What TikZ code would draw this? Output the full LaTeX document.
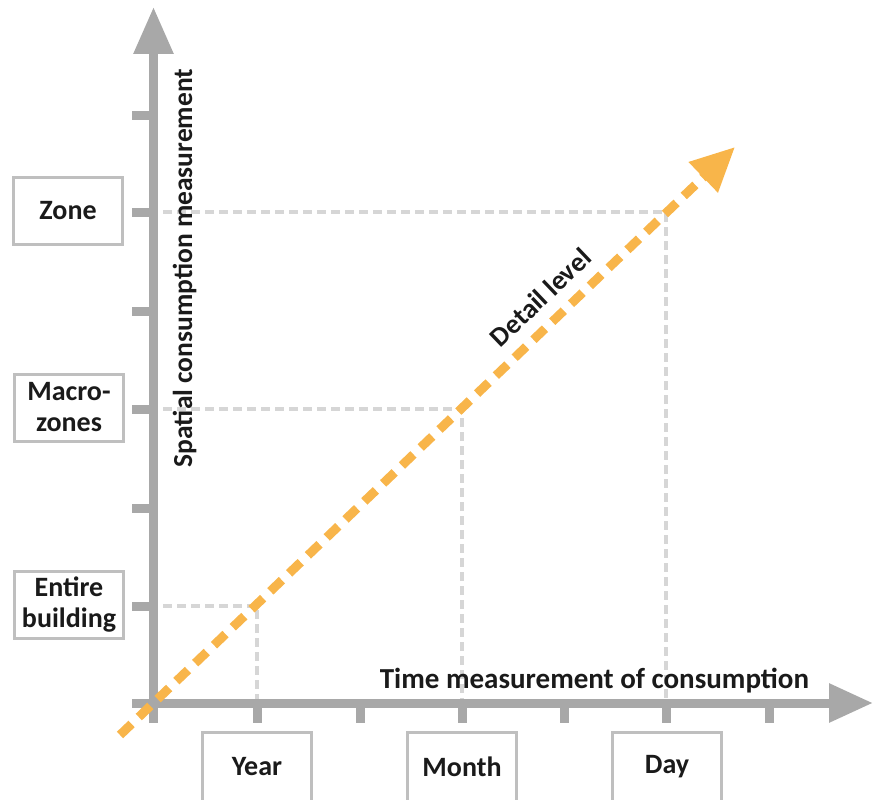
\documentclass[tikz,border=0pt]{standalone}
\usepackage{fontspec}
\setmainfont{Carlito}
\usetikzlibrary{arrows.meta}
\definecolor{axisgrey}{HTML}{A8A8A8}
\definecolor{boxgrey}{HTML}{BFBFBF}
\definecolor{dashgrey}{HTML}{D6D6D6}
\definecolor{detailorange}{HTML}{F8B54A}
\definecolor{textblack}{HTML}{1A1A1A}
\begin{document}
\begin{tikzpicture}[x=1pt,y=-1pt,
  axisline/.style={draw=axisgrey,line width=9pt},
  tickline/.style={draw=axisgrey,line width=9pt},
  guide/.style={draw=dashgrey,line width=4.5pt,dash pattern=on 9pt off 5pt},
  labelbox/.style={draw=boxgrey,line width=3pt,fill=white,minimum width=109pt,minimum height=67pt,
    inner sep=0pt,align=center,text=textblack,font=\bfseries\fontsize{28}{31}\selectfont},
  axislabel/.style={text=textblack,font=\bfseries\fontsize{27.5}{31}\selectfont,inner sep=0pt},
  detail/.style={draw=detailorange,line width=9pt,dash pattern=on 16pt off 10pt,
    -{Triangle[length=44pt,width=40pt]}}
]
\useasboundingbox (0,0) rectangle (873,800);

% coordinates
\coordinate (O) at (153.5,703);
\coordinate (ybot) at (153.5,723);
\coordinate (ytop) at (153.5,7);
\coordinate (xleft) at (132,703);
\coordinate (xright) at (873,703);

% guide lines
\coordinate (g1a) at (163,606); \coordinate (g1b) at (257,606); \coordinate (g1c) at (257,700);
\coordinate (g2a) at (163,409); \coordinate (g2b) at (462,409); \coordinate (g2c) at (462,700);
\coordinate (g3a) at (163,212); \coordinate (g3b) at (666,212); \coordinate (g3c) at (666,700);
\draw[guide] (g1a) -- (g1b) -- (g1c);
\draw[guide] (g2a) -- (g2b) -- (g2c);
\draw[guide] (g3a) -- (g3b) -- (g3c);

% axes
\draw[axisline,-{Triangle[length=47pt,width=38pt]}] (ybot) -- (ytop);
\draw[axisline,-{Triangle[length=44pt,width=37pt]}] (xleft) -- (xright);

% ticks on vertical axis
\foreach \yy in {115,212,311,409,508,606}
  \draw[tickline] (132,\yy) -- (150,\yy);
% ticks on horizontal axis
\foreach \xx in {257,360,462,564,666,769}
  \draw[tickline] (\xx,706) -- (\xx,723);

% detail arrow
\coordinate (dstart) at (120,735);
\coordinate (dend) at (735,147);
\draw[detail] (dstart) -- (dend);

% boxes
\node[labelbox] (zone) at (68,211) {Zone};
\node[labelbox] (macro) at (69,407.5) {Macro-\\zones};
\node[labelbox] (entire) at (69,605) {Entire\\building};
\node[labelbox,minimum height=69pt] (year) at (257,767) {Year};
\node[labelbox,minimum height=69pt] (month) at (462,767) {Month};
\node[labelbox,minimum height=69pt] (day) at (667,767) {Day};

% axis labels
\node[axislabel,anchor=base,font=\bfseries\fontsize{29}{31}\selectfont] (xlab) at (594.5,688) {Time measurement of consumption};
\node[axislabel,anchor=base,rotate=90] (ylab) at (192,268) {Spatial consumption measurement};
\node[axislabel,anchor=base,rotate=43.7] (dlab) at (547,304) {Detail level};
\end{tikzpicture}
\end{document}
